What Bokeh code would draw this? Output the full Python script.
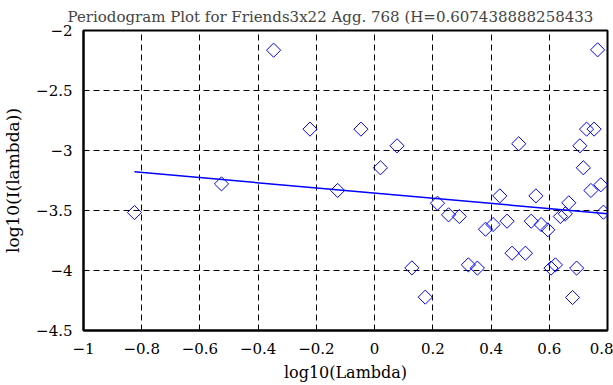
import numpy as np
from bokeh.plotting import figure
from bokeh.models import FixedTicker, Range1d
from bokeh.embed import file_html
from bokeh.resources import INLINE

# ---- data ----
log_lambda = [-0.825, -0.526, -0.347, -0.222, -0.127, -0.047, 0.020, 0.077,
              0.128, 0.174, 0.216, 0.254, 0.291, 0.322, 0.353, 0.381, 0.407,
              0.430, 0.455, 0.472, 0.495, 0.518, 0.538, 0.554, 0.572, 0.595,
              0.606, 0.621, 0.638, 0.655, 0.667, 0.680, 0.694, 0.705, 0.717,
              0.728, 0.743, 0.754, 0.766, 0.777, 0.786]
log_I = [-3.517, -3.278, -2.164, -2.822, -3.333, -2.822, -3.144, -2.961,
         -3.978, -4.222, -3.439, -3.536, -3.550, -3.953, -3.980, -3.656, -3.617,
         -3.378, -3.589, -3.856, -2.944, -3.856, -3.589, -3.378, -3.617, -3.661,
         -3.980, -3.953, -3.550, -3.528, -3.436, -4.225, -3.980, -2.961, -3.144,
         -2.822, -3.333, -2.822, -2.161, -3.286, -3.514]
fit_x = [-0.825, 0.80]
fit_y = [-3.178, -3.527]

xtick_values = [-1.0, -0.8, -0.6, -0.4, -0.2, 0.0, 0.2, 0.4, 0.6, 0.8]
xtick_labels = ["\u22121", "\u22120.8", "\u22120.6", "\u22120.4", "\u22120.2",
                "0", "0.2", "0.4", "0.6", "0.8"]
ytick_values = [-4.5, -4.0, -3.5, -3.0, -2.5, -2.0]
ytick_labels = ["\u22124.5", "\u22124", "\u22123.5", "\u22123", "\u22122.5", "\u22122"]

title_text = "Periodogram Plot for Friends3x22 Agg. 768 (H=0.607438888258433"
xlabel = "log10(Lambda)"
ylabel = "log10(I(lambda))"

FONT = "DejaVu Serif"

p = figure(width=613, height=385, output_backend="svg", toolbar_location=None,
           x_range=Range1d(-1, 0.8), y_range=Range1d(-4.5, -2),
           min_border_left=81, min_border_right=6, min_border_top=30,
           min_border_bottom=55)

p.title.text = title_text
p.title.text_font = FONT
p.title.text_font_size = "15px"
p.title.text_font_style = "normal"
p.title.align = "left"
p.title.offset = -16
p.title.standoff = 10

p.outline_line_color = "black"
p.outline_line_width = 2
p.background_fill_color = "white"
p.border_fill_color = "white"

for ax, vals, labs, lab in ((p.xaxis[0], xtick_values, xtick_labels, xlabel),
                            (p.yaxis[0], ytick_values, ytick_labels, ylabel)):
    ax.ticker = FixedTicker(ticks=vals)
    ax.major_label_overrides = {v: l for v, l in zip(vals, labs)}
    ax.axis_label = lab
    ax.axis_label_text_font = FONT
    ax.axis_label_text_font_style = "normal"
    ax.axis_label_text_color = "black"
    ax.major_label_text_font = FONT
    ax.major_label_text_font_size = "15px"
    ax.major_label_text_color = "black"
    ax.axis_line_color = "black"
    ax.axis_line_width = 2
    ax.major_tick_in = 5
    ax.major_tick_out = 0
    ax.major_tick_line_color = "black"
    ax.major_tick_line_width = 1
    ax.minor_tick_line_color = None

p.xaxis.axis_label_text_font_size = "16px"
p.yaxis.axis_label_text_font_size = "17px"
p.xaxis.major_label_standoff = 12
p.yaxis.major_label_standoff = 11
p.xaxis.axis_label_standoff = 6
p.yaxis.axis_label_standoff = 10

for g in (p.xgrid[0], p.ygrid[0]):
    g.grid_line_color = "black"
    g.grid_line_dash = "6 4"
    g.grid_line_width = 1
p.xgrid.ticker = FixedTicker(ticks=xtick_values)
p.ygrid.ticker = FixedTicker(ticks=ytick_values)

p.line(fit_x, fit_y, line_color="#0000ff", line_width=1.5)
p.scatter(log_lambda, log_I, marker="square", angle=np.pi / 4, size=10,
          fill_color=None, line_color="#0000ff", line_width=1)

open("out.html", "w").write(file_html(p, INLINE))
